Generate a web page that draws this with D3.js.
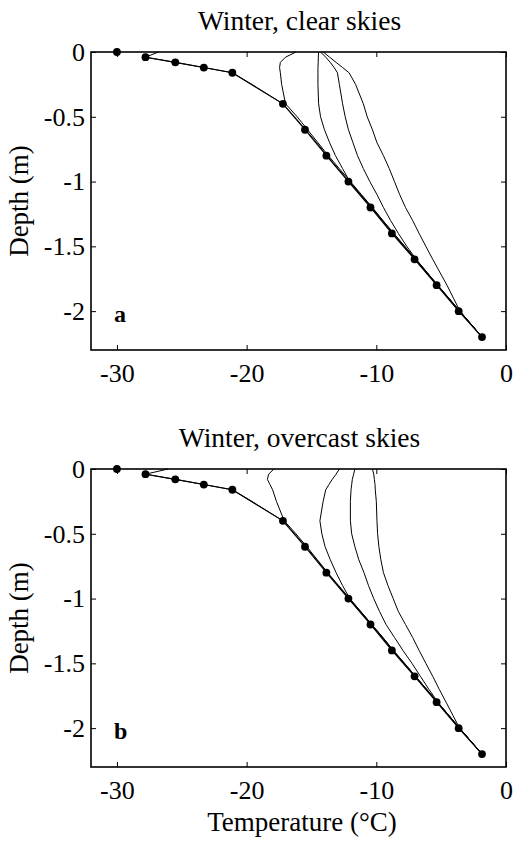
<!DOCTYPE html>
<html>
<head>
<meta charset="utf-8">
<script src="https://cdn.jsdelivr.net/npm/d3@7"></script>
<style>
  html, body { margin: 0; padding: 0; background: #fff; }
  svg { display: block; }
  text { font-family: "Liberation Serif", "Times New Roman", serif; fill: #000; }
</style>
</head>
<body>
<svg id="chart" width="514" height="841"></svg>
<script>
// Axis ticks
const xTicks = [-30, -20, -10, 0];
const yTicks = [0, -0.5, -1, -1.5, -2];

// Panel captions
const panelTitles = ["Winter, clear skies", "Winter, overcast skies"];
const panelLetters = ["a", "b"];

// Measured snow/ice temperature profile (depth in m, temperature in °C)
const obsDepth = [0, -0.04, -0.08, -0.12, -0.16, -0.4, -0.6, -0.8, -1.0, -1.2, -1.4, -1.6, -1.8, -2.0, -2.2];
const obsTemp  = [-30, -27.8, -25.5, -23.3, -21.1, -17.2, -15.5, -13.85, -12.15, -10.45, -8.8, -7.05, -5.35, -3.65, -1.85];

// Depth grid of the modelled profiles
const modelDepth = [0, -0.04, -0.08, -0.12, -0.16, -0.25, -0.4, -0.5, -0.6, -0.7, -0.8, -0.9, -1.0,
                    -1.1, -1.2, -1.3, -1.4, -1.5, -1.6, -1.7, -1.8, -1.9, -2.0, -2.1, -2.2];

// Modelled profiles, clear skies
const clearE = [-26.8, -27.8, -25.5, -23.3, -21.1, -19.6, -17.2, -16.3, -15.45, -14.6, -13.8, -12.95, -12.1,
                -11.25, -10.4, -9.55, -8.75, -7.88, -7.0, -6.15, -5.3, -4.45, -3.6, -2.7, -1.85];
const clearA = [-16.2, -17.0, -17.4, -17.46, -17.4, -17.3, -17.0, -16.1, -15.3, -14.5, -13.7, -12.85, -12.0,
                -11.15, -10.3, -9.5, -8.65, -7.8, -6.95, -6.1, -5.25, -4.4, -3.55, -2.7, -1.85];
const clearB = [-14.45, -14.47, -14.48, -14.5, -14.5, -14.5, -14.45, -14.3, -14.0, -13.6, -13.15, -12.6, -12.05,
                -11.2, -10.35, -9.5, -8.68, -7.82, -6.97, -6.12, -5.27, -4.42, -3.57, -2.72, -1.85];
const clearC = [-14.3, -13.9, -13.55, -13.25, -13.0, -12.85, -12.6, -12.4, -12.15, -11.8, -11.45, -11.0, -10.5,
                -9.95, -9.45, -8.9, -8.3, -7.65, -6.92, -6.1, -5.28, -4.42, -3.58, -2.7, -1.85];
const clearD = [-14.1, -13.6, -13.1, -12.6, -12.1, -11.6, -11.0, -10.7, -10.3, -9.95, -9.45, -9.0, -8.6,
                -8.2, -7.75, -7.2, -6.7, -6.18, -5.65, -5.1, -4.55, -4.05, -3.55, -2.7, -1.85];

// Modelled profiles, overcast skies
const overE = [-26.05, -27.8, -25.5, -23.3, -21.1, -19.6, -17.2, -16.3, -15.45, -14.6, -13.8, -12.95, -12.1,
               -11.25, -10.4, -9.55, -8.75, -7.88, -7.0, -6.15, -5.3, -4.45, -3.6, -2.7, -1.85];
const overA = [-17.9, -18.3, -18.4, -18.2, -18.0, -17.7, -17.1, -16.2, -15.35, -14.55, -13.75, -12.9, -12.05,
               -11.2, -10.35, -9.5, -8.7, -7.83, -6.98, -6.12, -5.28, -4.42, -3.58, -2.72, -1.85];
const overB = [-12.85, -13.1, -13.4, -13.65, -13.9, -14.1, -14.35, -14.2, -13.95, -13.55, -13.1, -12.6, -12.05,
               -11.2, -10.35, -9.5, -8.68, -7.82, -6.97, -6.12, -5.27, -4.42, -3.57, -2.72, -1.85];
const overC = [-11.65, -11.75, -11.85, -11.9, -11.95, -12.0, -12.0, -11.9, -11.65, -11.35, -10.95, -10.6, -10.2,
               -9.75, -9.25, -8.6, -7.95, -7.25, -6.6, -5.95, -5.25, -4.42, -3.58, -2.72, -1.85];
const overD = [-10.3, -10.2, -10.15, -10.1, -10.08, -10.0, -9.95, -9.9, -9.8, -9.65, -9.45, -9.1, -8.7,
               -8.3, -7.75, -7.2, -6.7, -6.18, -5.65, -5.15, -4.62, -4.1, -3.58, -2.72, -1.85];

const panelModels = [
  [clearE, clearA, clearB, clearC, clearD],
  [overE, overA, overB, overC, overD]
];

const svg = d3.select("#chart");
const plotLeft = 91, plotRight = 506, plotHeight = 298;
const panelTops = [52, 469];

const x = d3.scaleLinear().domain([-32, 0]).range([plotLeft, plotRight]);
const fmt = d => String(d);

panelTops.forEach((top, p) => {
  const y = d3.scaleLinear().domain([0, -2.3]).range([top, top + plotHeight]);
  const g = svg.append("g");

  // Title
  g.append("text")
    .attr("x", (plotLeft + plotRight) / 2 + 1)
    .attr("y", top - 22)
    .attr("text-anchor", "middle")
    .style("font-size", "27.5px")
    .text(panelTitles[p]);

  // Axes with inward ticks on all four sides
  const tickLen = 5;
  const bottomAxis = g.append("g")
    .attr("transform", `translate(0,${top + plotHeight})`)
    .call(d3.axisBottom(x).tickValues(xTicks).tickFormat(fmt)
      .tickSizeInner(-tickLen).tickSizeOuter(0).tickPadding(14));
  const leftAxis = g.append("g")
    .attr("transform", `translate(${plotLeft},0)`)
    .call(d3.axisLeft(y).tickValues(yTicks).tickFormat(fmt)
      .tickSizeInner(-tickLen).tickSizeOuter(0).tickPadding(6));
  const topAxis = g.append("g")
    .attr("transform", `translate(0,${top})`)
    .call(d3.axisTop(x).tickValues(xTicks).tickFormat("")
      .tickSizeInner(-tickLen).tickSizeOuter(0));
  const rightAxis = g.append("g")
    .attr("transform", `translate(${plotRight},0)`)
    .call(d3.axisRight(y).tickValues(yTicks).tickFormat("")
      .tickSizeInner(-tickLen).tickSizeOuter(0));

  [bottomAxis, leftAxis, topAxis, rightAxis].forEach(a => {
    a.select(".domain").remove();
    a.selectAll("line").attr("stroke", "#000").attr("stroke-width", 1);
    a.selectAll("text")
      .style("font-family", '"Liberation Serif", "Times New Roman", serif')
      .style("font-size", "26px")
      .attr("fill", "#000");
  });

  // Frame
  g.append("rect")
    .attr("x", plotLeft).attr("y", top)
    .attr("width", plotRight - plotLeft).attr("height", plotHeight)
    .attr("fill", "none").attr("stroke", "#000").attr("stroke-width", 1.6);

  // Y axis label
  g.append("text")
    .attr("transform", `translate(28,${top + 149}) rotate(-90)`)
    .attr("text-anchor", "middle")
    .style("font-size", "27px")
    .text("Depth (m)");

  // Panel letter
  g.append("text")
    .attr("x", 114)
    .attr("y", y(-2) + 11)
    .style("font-size", "24px")
    .style("font-weight", "bold")
    .text(panelLetters[p]);

  // Modelled profiles
  const line = d3.line()
    .x(d => x(d[1]))
    .y(d => y(d[0]));

  panelModels[p].forEach(temps => {
    g.append("path")
      .datum(modelDepth.map((d, i) => [d, temps[i]]))
      .attr("fill", "none")
      .attr("stroke", "#000")
      .attr("stroke-width", 1)
      .attr("d", line);
  });

  // Measured profile: points below the surface joined by a line
  const obs = obsDepth.map((d, i) => [d, obsTemp[i]]);
  g.append("path")
    .datum(obs.slice(1))
    .attr("fill", "none")
    .attr("stroke", "#000")
    .attr("stroke-width", 1.1)
    .attr("d", line);

  g.selectAll("circle.obs")
    .data(obs)
    .join("circle")
    .attr("class", "obs")
    .attr("cx", d => x(d[1]))
    .attr("cy", d => y(d[0]))
    .attr("r", 3.9)
    .attr("fill", "#000");
});

// X axis label
svg.append("text")
  .attr("x", 302)
  .attr("y", 831)
  .attr("text-anchor", "middle")
  .style("font-size", "27px")
  .text("Temperature (°C)");
</script>
</body>
</html>
